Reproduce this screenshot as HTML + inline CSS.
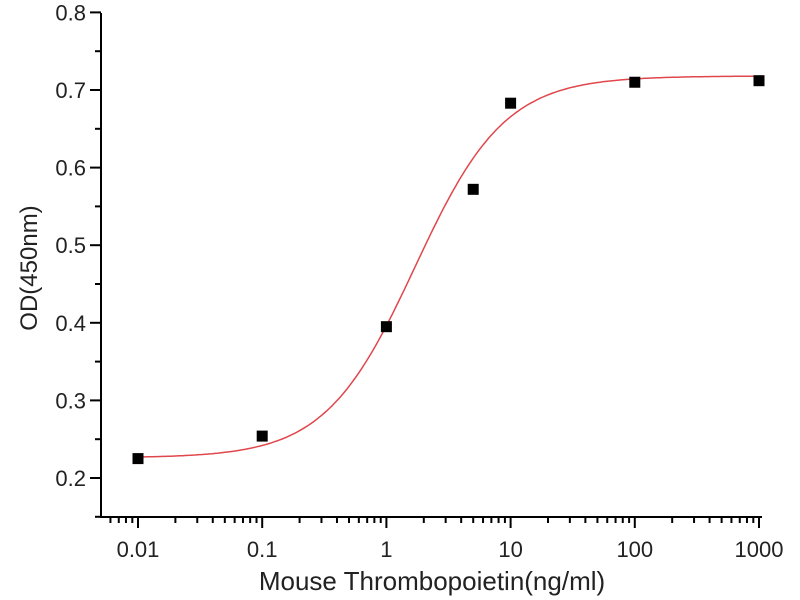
<!DOCTYPE html><html><head><style>body{margin:0;background:#fff}svg{display:block}text{font-family:"Liberation Sans",Arial,sans-serif;fill:#222}</style></head><body>
<svg id="s" width="800" height="600" xmlns="http://www.w3.org/2000/svg">
<g stroke="#000" stroke-width="2" fill="none">
<path d="M101,13V517H762"/>
</g>
<g id="t" stroke="#000" stroke-width="2"></g>
<path id="c" fill="none" stroke="#e0474c" stroke-width="1.5"/>
<g id="p" fill="#000"></g>
<g font-size="22" text-anchor="end" id="yl"></g>
<g font-size="22" text-anchor="middle" id="xl"></g>
<text x="432" y="590" font-size="26" text-anchor="middle">Mouse Thrombopoietin(ng/ml)</text>
<text transform="translate(37,268) rotate(-90)" font-size="24" text-anchor="middle">OD(450nm)</text>
</svg>
<script>
const X=v=>138+124.2*(Math.log10(v)+2), Y=v=>478-(v-0.2)*776;
let t='',yl='',xl='';
for(let i=0;i<=6;i++){let v=0.2+i*0.1,y=Y(v);t+=`<line x1="90" x2="101" y1="${y}" y2="${y}"/>`;yl+=`<text x="86" y="${y+8}">${v.toFixed(1)}</text>`;if(i<6){let y2=Y(v+0.05);t+=`<line x1="95" x2="101" y1="${y2}" y2="${y2}"/>`;}}
t+=`<line x1="95" x2="101" y1="${Y(0.15)}" y2="${Y(0.15)}"/>`;
const labs=['0.01','0.1','1','10','100','1000'];
for(let d=-3;d<=3;d++){for(let m=1;m<10;m++){let v=m*Math.pow(10,d),x=X(v);if(x<101||x>763)continue;t+=`<line x1="${x}" x2="${x}" y1="517" y2="${m==1?528:523}"/>`;}}
labs.forEach((l,i)=>{xl+=`<text x="${138+124.2*i}" y="557">${l}</text>`});
document.getElementById('t').innerHTML=t;document.getElementById('yl').innerHTML=yl;document.getElementById('xl').innerHTML=xl;
let d='';for(let lx=-2;lx<=3.0001;lx+=0.02){let v=Math.pow(10,lx),y=0.226+0.492/(1+Math.pow(1.7/v,1.2));d+=(d?'L':'M')+X(v).toFixed(1)+','+Y(y).toFixed(1);}
document.getElementById('c').setAttribute('d',d);
let p='';[[0.01,0.225],[0.1,0.254],[1,0.395],[5,0.572],[10,0.683],[100,0.710],[1000,0.712]].forEach(([a,b])=>{p+=`<rect x="${X(a)-5.5}" y="${Y(b)-5.5}" width="11" height="11"/>`});
document.getElementById('p').innerHTML=p;
</script></body></html>
